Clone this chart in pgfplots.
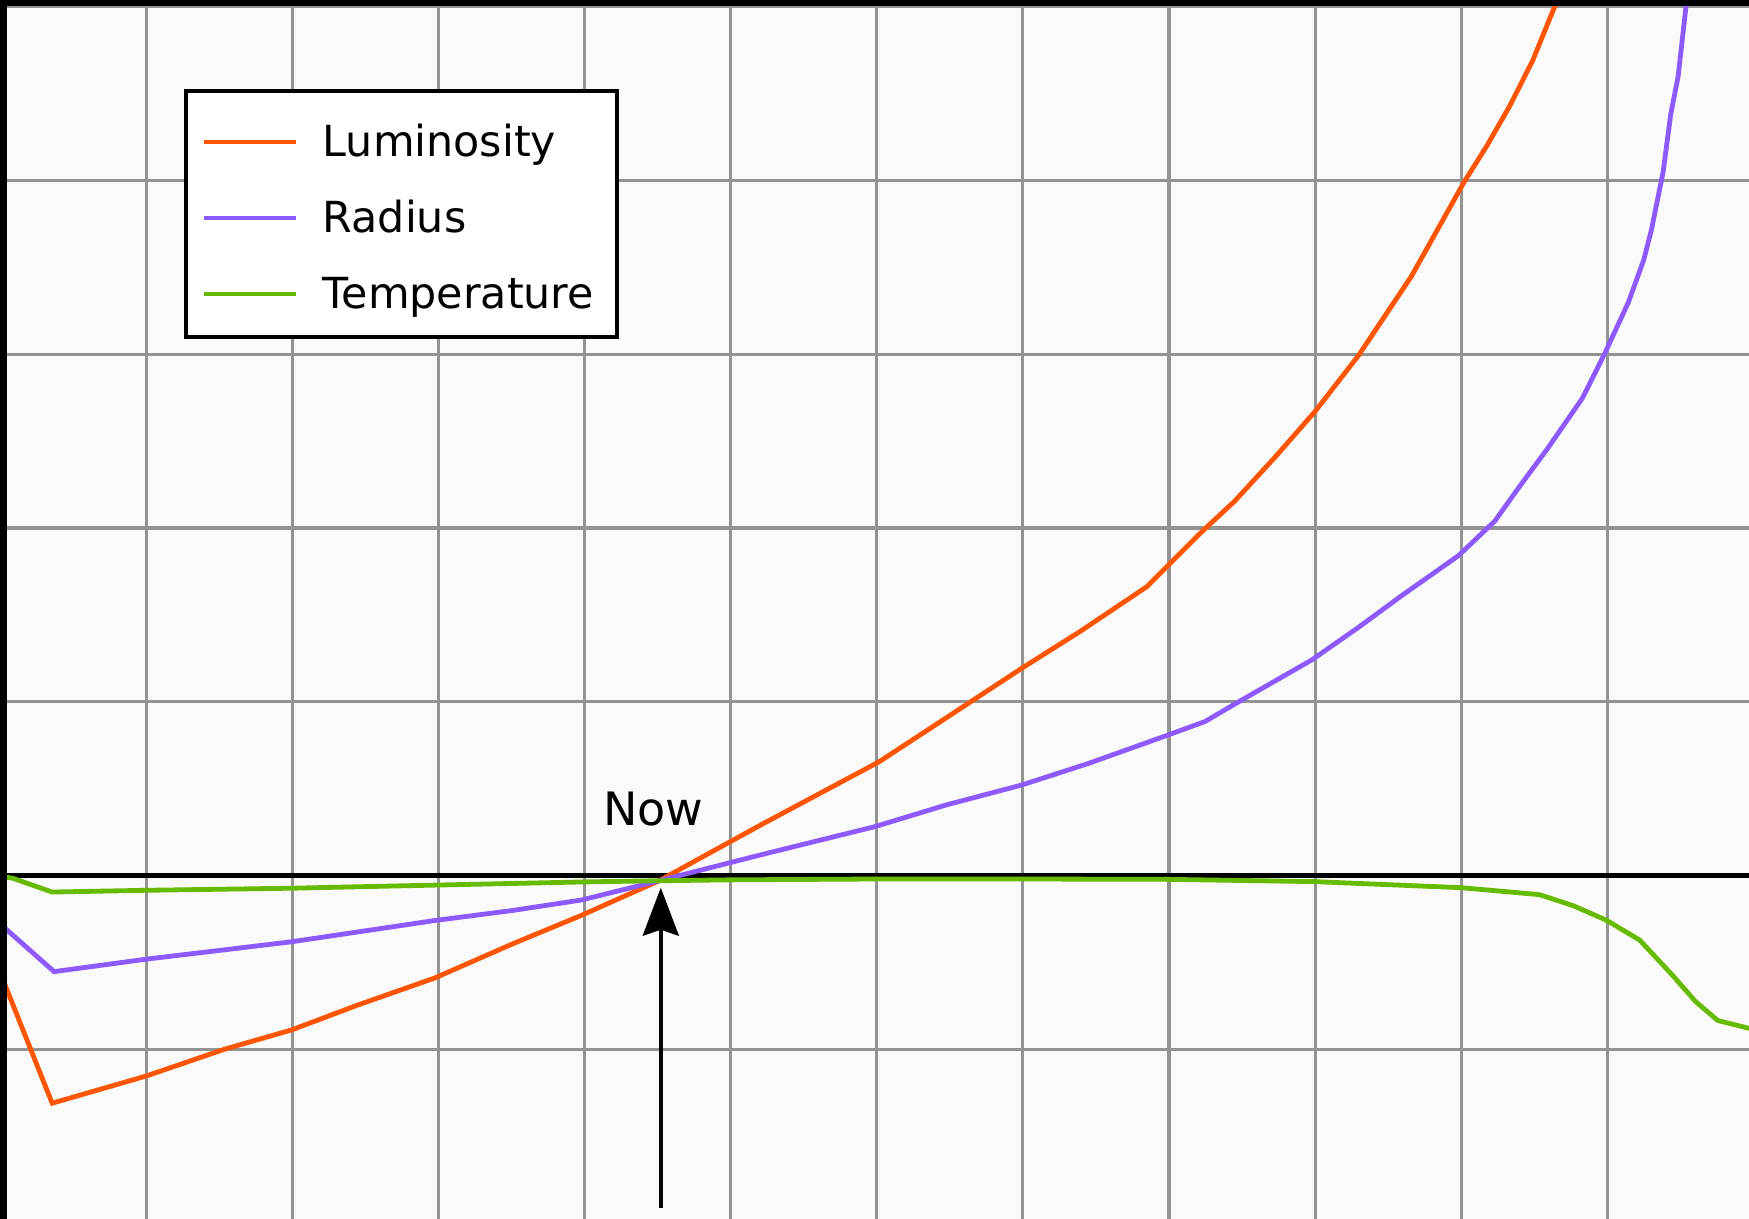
\documentclass[border=0pt]{standalone}
\usepackage{fontspec}
\setmainfont{DejaVu Sans}
\usepackage{pgfplots}
\pgfplotsset{compat=1.18}
\usetikzlibrary{arrows.meta}
\definecolor{lum}{HTML}{FF5500}
\definecolor{rad}{HTML}{8C5AFF}
\definecolor{tem}{HTML}{66BB00}
\definecolor{bgc}{HTML}{FAFAFA}
\definecolor{gridc}{HTML}{939393}
\begin{document}
\begin{tikzpicture}
\begin{axis}[
  scale only axis, width=437.25pt, height=304.75pt,
  xmin=0, xmax=11.969, ymin=-1.976, ymax=5.038,
  xtick={1,...,11}, ytick={-1,...,5},
  xticklabels={}, yticklabels={},
  major tick length=0pt,
  grid=major, major grid style={gridc, line width=0.8pt},
  extra y ticks={0}, extra y tick labels={},
  extra y tick style={major grid style={black, line width=1.1pt}},
  axis line style={draw=none},
  axis background/.style={fill=bgc},
  legend cell align=left,
  legend style={
    at={(0.1052,0.927)}, anchor=north west,
    draw=black, line width=1pt, fill=white,
    inner xsep=4pt, inner ysep=4.5pt,
    row sep=4.5pt, column sep=6pt,
    font=\fontsize{10.7}{12}\selectfont,
    nodes={inner sep=0pt, text height=12pt, text depth=2.5pt, text width=69.5pt},
  },
  legend image code/.code={\draw[#1] (0pt,-1pt) -- (23pt,-1pt);},
]
\addplot[lum, line width=1.2pt] coordinates {
(0.03,-0.62) (0.357,-1.31) (1.003,-1.153) (1.534,-1.0) (1.997,-0.888)
(2.449,-0.745) (2.974,-0.59) (3.517,-0.39) (3.985,-0.227) (4.51,-0.03)
(5.206,0.291) (6.017,0.655) (6.627,0.991) (6.993,1.193) (7.391,1.404)
(7.848,1.662) (8.214,1.970) (8.449,2.154) (8.737,2.418) (9.0,2.671)
(9.299,2.995) (9.66,3.45) (10.019,3.99) (10.176,4.20) (10.333,4.43)
(10.489,4.69) (10.642,5.006) (10.68,5.10)
};
\addlegendentry{Luminosity}
\addplot[rad, line width=1.2pt] coordinates {
(0.03,-0.30) (0.37,-0.553) (1.003,-0.481) (1.997,-0.381) (2.974,-0.259)
(3.517,-0.20) (3.985,-0.14) (4.51,-0.03) (5.206,0.119) (5.986,0.281)
(6.475,0.406) (6.993,0.521) (7.452,0.646) (7.995,0.809) (8.246,0.886)
(8.459,0.991) (8.978,1.241) (9.30,1.43) (9.583,1.605) (9.98,1.84)
(10.23,2.04) (10.40,2.24) (10.594,2.461) (10.830,2.748) (10.987,3.013)
(11.144,3.299) (11.249,3.543) (11.302,3.718) (11.381,4.047) (11.433,4.378)
(11.484,4.598) (11.537,4.994) (11.55,5.10)
};
\addlegendentry{Radius}
\addplot[tem, line width=1.2pt] coordinates {
(0.0,-0.005) (0.085,-0.015) (0.357,-0.095) (1.0,-0.085) (1.997,-0.073)
(2.983,-0.055) (3.985,-0.037) (4.51,-0.03) (4.982,-0.025) (5.996,-0.02)
(6.995,-0.02) (7.995,-0.022) (8.994,-0.035) (10.0,-0.07) (10.535,-0.11)
(10.764,-0.173) (10.993,-0.257) (11.222,-0.372) (11.45,-0.578) (11.603,-0.725)
(11.755,-0.834) (11.969,-0.879) (12.06,-0.892)
};
\addlegendentry{Temperature}
\node[font=\fontsize{11.5}{13}\selectfont] at (axis cs:4.47,0.385) {Now};
\draw[black, line width=0.9pt, -{Stealth[length=12pt, width=9pt, inset=1.5pt]}]
  (axis cs:4.522,-1.911) -- (axis cs:4.522,-0.07);
\draw[black, line width=3.5pt] (rel axis cs:0,0) -- (rel axis cs:0,1);
\draw[black, line width=2.8pt] (rel axis cs:0,1) -- (rel axis cs:1,1);
\coordinate (bbsw) at (rel axis cs:0,0);
\coordinate (bbne) at (rel axis cs:1,1);
\end{axis}
\pgfresetboundingbox
\useasboundingbox (bbsw) rectangle (bbne);
\end{tikzpicture}
\end{document}
